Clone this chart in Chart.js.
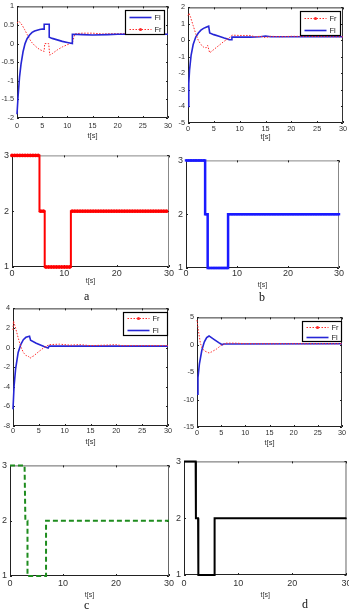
<!DOCTYPE html>
<html>
<head>
<meta charset="utf-8">
<script src="https://cdn.jsdelivr.net/npm/chart.js@4.4.0/dist/chart.umd.min.js"></script>
<style>
html, body { margin: 0; padding: 0; background: #fff; overflow: hidden; width: 349px; height: 611px; }
canvas { position: absolute; }
.lbl { position: absolute; font-family: "Liberation Serif", "DejaVu Serif", serif; font-size: 12px; color: #111; }
</style>
</head>
<body>
<canvas id="p1"></canvas><canvas id="p2"></canvas>
<canvas id="p3"></canvas><canvas id="p4"></canvas>
<canvas id="p5"></canvas><canvas id="p6"></canvas>
<canvas id="p7"></canvas><canvas id="p8"></canvas>
<div class="lbl" style="left:84px;top:289px">a</div>
<div class="lbl" style="left:259px;top:290px">b</div>
<div class="lbl" style="left:84px;top:598px">c</div>
<div class="lbl" style="left:302px;top:597px">d</div>
<script>
// (a) forces
const aFlT = [0, 0.2, 0.5, 0.8, 1.2, 1.6, 2, 2.5, 3, 3.5, 4, 4.5, 5, 5.4, 5.4, 6.4, 6.4, 7, 8, 9, 10, 11, 11, 13, 15, 18, 20, 25, 30];
const aFlV = [-1.9, -1.45, -0.9, -0.55, -0.22, 0, 0.13, 0.23, 0.3, 0.34, 0.36, 0.38, 0.39, 0.39, 0.52, 0.52, 0.17, 0.14, 0.1, 0.06, 0.03, 0, 0.25, 0.24, 0.23, 0.24, 0.25, 0.25, 0.25];
const aFrT = [0, 0.4, 1, 1.5, 2, 2.5, 3, 3.5, 4, 4.5, 5, 5.4, 5.5, 6.3, 6.5, 7, 8, 9, 10, 11, 11.5, 12, 13, 15, 17, 20, 25, 30];
const aFrV = [0.55, 0.6, 0.5, 0.38, 0.25, 0.12, 0.02, -0.05, -0.11, -0.16, -0.19, -0.21, 0, 0, -0.31, -0.27, -0.17, -0.09, -0.03, 0.02, 0.26, 0.27, 0.28, 0.28, 0.26, 0.27, 0.26, 0.25];
// (b) forces
const bFlT = [0, 0.15, 0.3, 0.6, 1, 1.5, 2, 2.5, 3, 3.5, 4, 4.2, 5, 6, 7, 8, 8.4, 8.5, 10, 12, 14, 15, 16, 18, 30];
const bFlV = [-4, -2.6, -1.8, -0.9, -0.25, 0.2, 0.45, 0.62, 0.73, 0.8, 0.86, 0.45, 0.35, 0.25, 0.14, 0.05, 0.04, 0.2, 0.2, 0.2, 0.22, 0.27, 0.22, 0.22, 0.22];
const bFrT = [0, 0.2, 0.5, 1, 1.5, 2, 2.5, 3, 3.5, 3.8, 4.2, 5, 6, 7, 8, 8.5, 10, 12, 13, 14, 15, 16, 18, 20, 30];
const bFrV = [1.5, 1.65, 1.4, 0.9, 0.4, 0, -0.25, -0.4, -0.45, -0.3, -0.75, -0.55, -0.3, -0.05, 0.15, 0.32, 0.3, 0.3, 0.22, 0.25, 0.17, 0.25, 0.22, 0.25, 0.22];
// (c) forces
const cFlT = [0, 0.2, 0.5, 1, 1.5, 2, 2.5, 3.2, 3.4, 4.5, 6, 6.8, 7, 10, 15, 20, 30];
const cFlV = [-6.3, -4, -2.2, -0.5, 0.3, 0.8, 1.05, 1.15, 0.75, 0.45, 0.1, -0.05, 0.15, 0.15, 0.15, 0.15, 0.15];
const cFrT = [0, 0.1, 0.5, 1, 1.5, 2, 2.5, 3, 3.3, 3.6, 4, 5, 6, 7, 9, 11, 13, 15, 18, 20, 21, 30];
const cFrV = [1.8, 2.7, 2, 1, 0.1, -0.5, -0.8, -0.9, -1.1, -0.95, -0.85, -0.4, 0, 0.3, 0.35, 0.25, 0.3, 0.2, 0.25, 0.3, 0.2, 0.2];
// (d) forces
const dFlT = [0, 0.2, 0.5, 1, 1.5, 2, 2.5, 2.7, 3.5, 4.5, 5.2, 5.5, 30];
const dFlV = [-9, -6, -3.5, -1, 0.5, 1.3, 1.6, 1.5, 1, 0.4, 0, 0.15, 0.2];
const dFrT = [0, 0.3, 0.7, 1, 1.5, 2, 2.5, 3, 4, 5, 6, 8, 10, 30];
const dFrV = [4.5, 2.5, 0.3, -0.5, -1.1, -1.3, -1.5, -1.3, -0.8, -0.1, 0.3, 0.3, 0.2, 0.2];

// mode signals
const sampT = [0, 0.5, 1, 1.5, 2, 2.5, 3, 3.5, 4, 4.5, 5, 5.5, 6, 6.5, 7, 7.5, 8, 8.5, 9, 9.5,
  10, 10.5, 11, 11.5, 12, 12.5, 13, 13.5, 14, 14.5, 15, 15.5, 16, 16.5, 17, 17.5, 18, 18.5, 19, 19.5,
  20, 20.5, 21, 21.5, 22, 22.5, 23, 23.5, 24, 24.5, 25, 25.5, 26, 26.5, 27, 27.5, 28, 28.5, 29, 29.5, 30];
const modeA = [3, 3, 3, 3, 3, 3, 3, 3, 3, 3, 3, 2, 2, 1, 1, 1, 1, 1, 1, 1, 1, 1, 1,
  2, 2, 2, 2, 2, 2, 2, 2, 2, 2, 2, 2, 2, 2, 2, 2, 2, 2, 2, 2, 2, 2, 2, 2, 2, 2, 2, 2, 2, 2, 2, 2, 2, 2, 2, 2, 2];
const modeB = [3, 3, 3, 3, 3, 3, 3, 3, 2, 1, 1, 1, 1, 1, 1, 1, 1,
  2, 2, 2, 2, 2, 2, 2, 2, 2, 2, 2, 2, 2, 2, 2, 2, 2, 2, 2, 2, 2, 2, 2, 2, 2, 2, 2, 2, 2, 2, 2, 2, 2, 2, 2, 2, 2, 2, 2, 2, 2, 2, 2, 2];
const modeCT = [0, 2.75, 2.9, 3.3, 3.3, 6.8, 6.8, 30];
const modeCV = [3, 3, 2, 2, 1, 1, 2, 2];
const modeDT = [0, 2.15, 2.2, 2.6, 2.65, 5.65, 5.65, 30];
const modeDV = [3, 3, 2, 2, 1, 1, 2, 2];

const pts = (t, v) => t.map((x, i) => ({ x: x, y: v[i] }));

const BLUE = '#2626d6';
const RED = '#ff2a2a';

function fl(t, v) {
  return { data: pts(t, v), borderColor: BLUE, borderWidth: 1.6, pointRadius: 0, tension: 0, clip: false };
}
function fr(t, v) {
  return { data: pts(t, v), borderColor: RED, borderWidth: 1, borderDash: [1.5, 1.5], pointRadius: 0, tension: 0, clip: false };
}
const itFl = { label: 'Fl', color: BLUE, width: 1.6 };
const itFr = { label: 'Fr', color: RED, width: 1, dash: [1.5, 1.5], marker: true };

// frame with inward ticks
function framePlugin(axisCol, boxCol) {
  return {
    id: 'frame',
    beforeDatasetsDraw(chart) {
      const { ctx, chartArea: a, scales } = chart;
      const l = a.left + 0.5, r = a.right - 0.5, t = a.top + 0.5, b = a.bottom - 0.5;
      ctx.save();
      ctx.lineWidth = 1;
      ctx.strokeStyle = boxCol;
      ctx.beginPath();
      ctx.moveTo(l, t); ctx.lineTo(r, t); ctx.lineTo(r, b);
      ctx.stroke();
      ctx.strokeStyle = axisCol;
      ctx.beginPath();
      ctx.moveTo(l, t); ctx.lineTo(l, b); ctx.lineTo(r, b);
      scales.x.ticks.forEach(tk => {
        const px = Math.round(scales.x.getPixelForValue(tk.value)) + 0.5;
        ctx.moveTo(px, a.bottom); ctx.lineTo(px, a.bottom - 2);
        ctx.moveTo(px, a.top); ctx.lineTo(px, a.top + 2);
      });
      scales.y.ticks.forEach(tk => {
        const py = Math.round(scales.y.getPixelForValue(tk.value)) + 0.5;
        ctx.moveTo(a.left, py); ctx.lineTo(a.left + 2, py);
        ctx.moveTo(a.right, py); ctx.lineTo(a.right - 2, py);
      });
      ctx.stroke();
      ctx.restore();
    }
  };
}

function legendPlugin(lg) {
  return {
    id: 'boxLegend',
    afterDatasetsDraw(chart) {
      if (!lg) return;
      const { ctx, chartArea: a } = chart;
      const x = Math.round(a.right - lg.dx - lg.w) + 0.5, y = Math.round(a.top + lg.dy) + 0.5;
      ctx.save();
      ctx.fillStyle = '#fff';
      ctx.fillRect(x, y, lg.w, lg.h);
      ctx.strokeStyle = '#000';
      ctx.lineWidth = 1.2;
      ctx.strokeRect(x, y, lg.w, lg.h);
      lg.items.forEach((it, i) => {
        const ry = Math.round(y + lg.h * (i * 2 + 1) / 4) + 0.5;
        ctx.strokeStyle = it.color;
        ctx.lineWidth = it.width;
        ctx.setLineDash(it.dash || []);
        ctx.beginPath(); ctx.moveTo(x + 4, ry); ctx.lineTo(x + 26, ry); ctx.stroke();
        ctx.setLineDash([]);
        if (it.marker) {
          ctx.fillStyle = it.color;
          ctx.beginPath(); ctx.arc(x + 15, ry, 1.6, 0, Math.PI * 2); ctx.fill();
        }
        ctx.fillStyle = '#222';
        ctx.font = '7.5px "Liberation Sans"';
        ctx.textBaseline = 'middle';
        ctx.fillText(it.label, x + 29, ry);
      });
      ctx.restore();
    }
  };
}

function makePanel(id, box, spec) {
  const cv = document.getElementById(id);
  const cl = box.col, ct = box.T - 6;
  const cw = box.R + 8 - cl;
  const lh = spec.ts * 1.2;
  const ch = Math.round(box.titleY + lh / 2 - ct);
  cv.style.left = cl + 'px'; cv.style.top = ct + 'px';
  cv.style.width = cw + 'px'; cv.style.height = ch + 'px';
  cv.width = cw; cv.height = ch;
  const xh = ch - 6 - (box.B - box.T);
  new Chart(cv, {
    type: 'line',
    data: { datasets: spec.datasets },
    options: {
      responsive: false,
      animation: false,
      events: [],
      layout: { autoPadding: false, padding: { top: 6, right: 8, left: 0, bottom: 0 } },
      plugins: { legend: { display: false }, tooltip: { enabled: false } },
      scales: {
        x: {
          type: 'linear', min: 0, max: 30,
          grid: { display: false, drawTicks: false },
          border: { display: false },
          ticks: { stepSize: spec.xStep, padding: box.xOff - spec.fs / 2, color: '#333', maxRotation: 0, autoSkip: false,
            font: { size: spec.fs, family: 'Liberation Sans' }, callback: v => String(v) },
          title: { display: true, text: 't[s]', color: '#333', padding: 0, font: { size: spec.ts, family: 'Liberation Sans' } },
          afterFit(s) { s.height = xh; }
        },
        y: {
          min: spec.yMin, max: spec.yMax,
          grid: { display: false, drawTicks: false },
          border: { display: false },
          ticks: { stepSize: spec.yStep, padding: 3, color: '#333', autoSkip: false,
            font: { size: spec.fs, family: 'Liberation Sans' }, callback: v => String(v) },
          afterFit(s) { s.width = box.L - cl; }
        }
      }
    },
    plugins: [framePlugin(spec.axisCol || '#222', spec.boxCol || '#333'), legendPlugin(spec.legend)]
  });
}

makePanel('p1', { col: 0, L: 17, T: 5, R: 168, B: 118, titleY: 135, xOff: 7 }, {
  xStep: 5, yMin: -2, yMax: 1, yStep: 0.5, fs: 7.3, ts: 7.5,
  datasets: [fl(aFlT, aFlV), fr(aFrT, aFrV)],
  legend: { dx: 4, dy: 4, w: 39, h: 24, items: [itFl, itFr] }
});
makePanel('p2', { col: 175, L: 188, T: 6, R: 343, B: 123, titleY: 136, xOff: 5 }, {
  xStep: 5, yMin: -5, yMax: 2, yStep: 1, fs: 7.3, ts: 7.5,
  datasets: [fr(bFrT, bFrV), fl(bFlT, bFlV)],
  legend: { dx: 3, dy: 4, w: 40, h: 24, items: [itFr, itFl] }
});
makePanel('p3', { col: 0, L: 12, T: 153, R: 169, B: 267, titleY: 281, xOff: 6 }, {
  xStep: 10, yMin: 1, yMax: 3, yStep: 1, fs: 9, ts: 7, boxCol: '#888',
  datasets: [{ data: pts(sampT, modeA), borderColor: '#ff0000', borderWidth: 2, stepped: 'middle',
    pointRadius: 1.9, pointBackgroundColor: '#ff0000', pointBorderWidth: 0, clip: false }]
});
makePanel('p4', { col: 175, L: 186, T: 158, R: 339, B: 268, titleY: 285, xOff: 5 }, {
  xStep: 10, yMin: 1, yMax: 3, yStep: 1, fs: 9, ts: 7, boxCol: '#888',
  datasets: [{ data: pts(sampT, modeB), borderColor: '#1a1aff', borderWidth: 2.5, stepped: 'middle',
    pointRadius: 1.7, pointStyle: 'rect', pointBackgroundColor: '#1a1aff', pointBorderWidth: 0, clip: false }]
});
makePanel('p5', { col: 0, L: 13, T: 307, R: 168, B: 426, titleY: 441.7, xOff: 4 }, {
  xStep: 5, yMin: -8, yMax: 4, yStep: 2, fs: 7.3, ts: 7.5,
  datasets: [fr(cFrT, cFrV), fl(cFlT, cFlV)],
  legend: { dx: 1, dy: 4, w: 44, h: 23, items: [itFr, itFl] }
});
makePanel('p6', { col: 175, L: 197, T: 316, R: 342, B: 427, titleY: 442, xOff: 5 }, {
  xStep: 5, yMin: -15, yMax: 5, yStep: 5, fs: 7.3, ts: 7.5,
  datasets: [fr(dFrT, dFrV), fl(dFlT, dFlV)],
  legend: { dx: 1, dy: 4, w: 39, h: 20, items: [itFr, itFl] }
});
makePanel('p7', { col: 0, L: 10, T: 463, R: 169, B: 576, titleY: 595, xOff: 7 }, {
  xStep: 10, yMin: 1, yMax: 3, yStep: 1, fs: 9, ts: 7, boxCol: '#666',
  datasets: [{ data: pts(modeCT, modeCV), borderColor: '#1e8c1e', borderWidth: 2, borderDash: [5, 3],
    pointRadius: 0, tension: 0, clip: false }]
});
makePanel('p8', { col: 175, L: 184, T: 459, R: 347, B: 575, titleY: 595, xOff: 8 }, {
  xStep: 10, yMin: 1, yMax: 3, yStep: 1, fs: 9, ts: 7, boxCol: '#666',
  datasets: [{ data: pts(modeDT, modeDV), borderColor: '#000', borderWidth: 2,
    pointRadius: 0, tension: 0, clip: false }]
});
</script>
</body>
</html>
